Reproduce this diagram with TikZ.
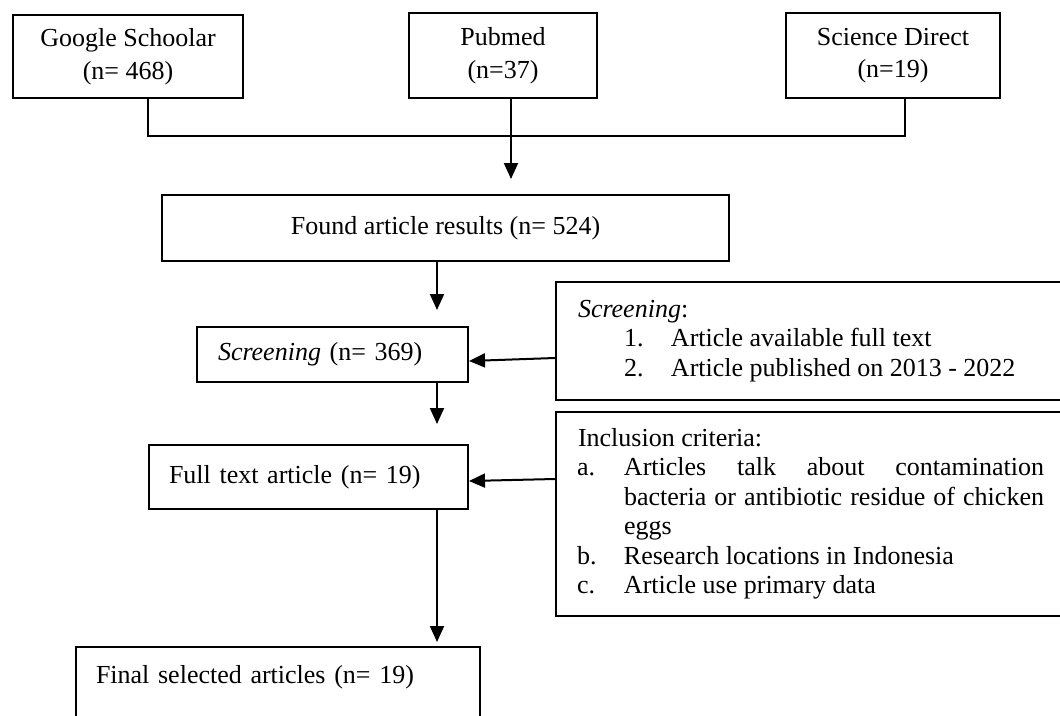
\documentclass[tikz,border=0pt]{standalone}
\usepackage{fontspec}
\setmainfont{Liberation Serif}
\usetikzlibrary{arrows.meta}

% list item with label in the hanging indent
\newcommand{\critem}[3]{\par\hangindent=#1\hangafter=0\noindent\llap{\makebox[47pt][l]{#2}}#3\par}

\begin{document}
\begin{tikzpicture}[x=1pt, y=-1pt, font=\fontsize{26}{29.5}\selectfont,
    flowbox/.style={draw, line width=2pt, inner sep=0pt},
    flow/.style={line width=2pt, -{Triangle[length=16pt,width=14pt]}}]
    \useasboundingbox (0,0) rectangle (1060,715);

    % Define points
    \coordinate (gsx) at (148,0);
    \coordinate (sdx) at (905,0);
    \coordinate (pmx) at (511,0);
    \coordinate (join) at (0,136);
    \coordinate (spine) at (437,0);

    % Sources
    \node [flowbox, minimum width=230pt, minimum height=83pt, align=center] (gs) at (128,56.5) {Google Schoolar\\[3pt](n= 468)};
    \node [flowbox, minimum width=188pt, minimum height=85pt, align=center] (pm) at (503,55.5) {Pubmed\\[3pt](n=37)};
    \node [flowbox, minimum width=214pt, minimum height=85pt, align=center] (sd) at (893,55.5) {Science Direct\\[3pt](n=19)};

    % Main steps
    \node [flowbox, minimum width=567pt, minimum height=66pt] (found) at (445.5,228) {Found article results (n= 524)};
    \node [flowbox, anchor=north west, text width=229pt, inner xsep=21pt, minimum height=55pt, align=left] (scr) at (196,326) {\textit{Screening} (n= 369)};
    \node [flowbox, anchor=north west, text width=279pt, inner xsep=20pt, minimum height=64pt, align=left] (full) at (148,444) {Full text article (n= 19)};
    \node [flowbox, anchor=north west, text width=364pt, inner xsep=20pt, inner ysep=18pt, text height=18pt, text depth=60pt, align=left] (final) at (75,646) {Final selected articles (n= 19)};

    % Criteria
    \node [flowbox, anchor=north west, text width=466pt, inner xsep=22pt, minimum height=118pt, align=justify] (critscr) at (555,281) {\textit{Screening}:\critem{93pt}{1.}{Article available full text}\critem{93pt}{2.}{Article published on 2013 - 2022}};
    \node [flowbox, anchor=north west, text width=466pt, inner xsep=22pt, minimum height=204pt, align=justify] (incl) at (555,411) {\tolerance=10000\hyphenpenalty=10000 Inclusion criteria:\critem{46pt}{a.}{Articles talk about contamination bacteria or antibiotic residue of chicken eggs}\critem{46pt}{b.}{Research locations in Indonesia}\critem{46pt}{c.}{Article use primary data}};

    % Join the sources
    \draw [line width=2pt] (gs.south -| gsx) |- (join -| sdx) -- (sd.south -| sdx);
    \draw [flow, shorten >=15pt] (pm.south -| pmx) -- (found.north -| pmx);

    % Down the spine
    \draw [flow, shorten >=16pt] (found.south -| spine) -- (scr.north -| spine);
    \draw [flow, shorten >=20pt] (scr.south -| spine) -- (full.north -| spine);
    \draw [flow, shorten >=4pt] (full.south -| spine) -- (final.north -| spine);

    % Criteria into the steps
    \draw [flow] ([yshift=-17pt]critscr.west) -- ([yshift=-6.5pt]scr.east);
    \draw [flow] ([yshift=35pt]incl.west) -- ([yshift=-4pt]full.east);

\end{tikzpicture}
\end{document}
